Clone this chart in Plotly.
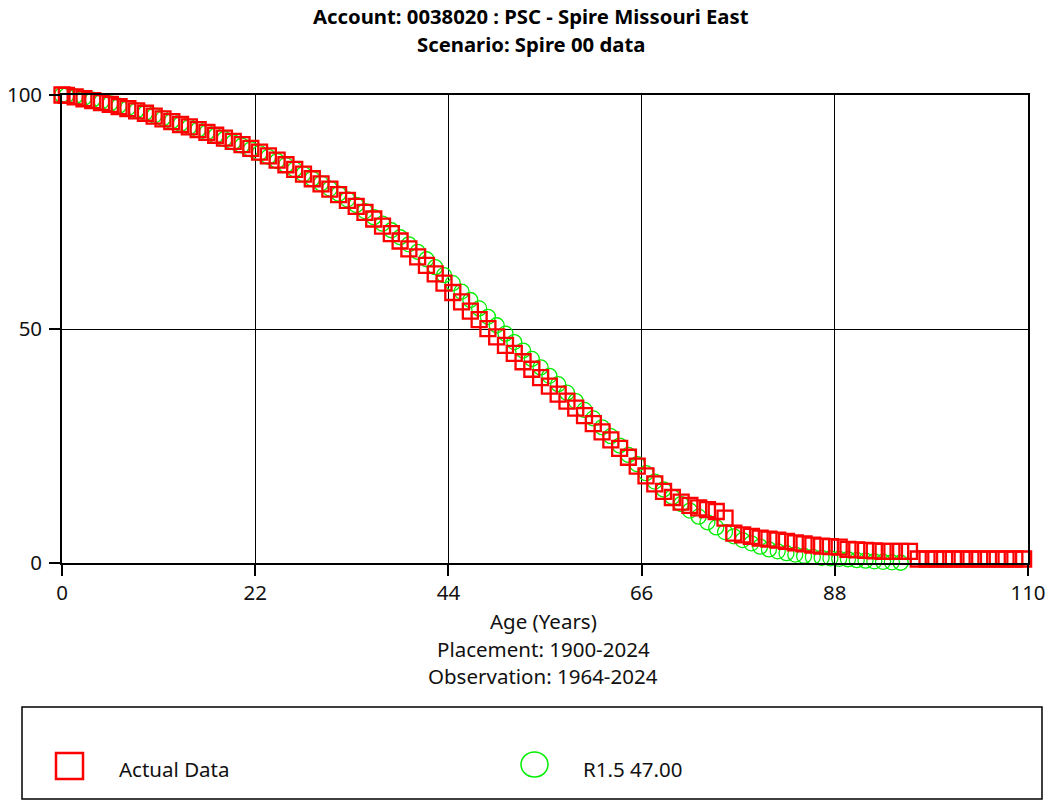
import plotly.graph_objects as go

# ---------------- data ----------------
title_lines = ["Account: 0038020 : PSC - Spire Missouri East", "Scenario: Spire 00 data"]
x_title_lines = ["Age (Years)", "Placement: 1900-2024", "Observation: 1964-2024"]
x_ticks = [0, 22, 44, 66, 88, 110]
y_ticks = [0, 50, 100]

actual_name = "Actual Data"
actual_age = [0] + [i + 0.5 for i in range(110)]
actual_pct = [
    100.0, 99.9, 99.6, 99.2, 98.8, 98.4, 98.0, 97.5, 97.1, 96.6, 96.1,
    95.5, 94.9, 94.3, 93.7, 93.2, 92.6, 92.0, 91.4, 90.8, 90.1,
    89.4, 88.6, 87.8, 87.0, 86.1, 85.1, 84.1, 83.1, 82.1, 81.0,
    79.9, 78.7, 77.5, 76.2, 74.9, 73.5, 72.0, 70.4, 68.8, 67.1,
    65.4, 63.6, 61.8, 59.8, 57.8, 55.8, 53.8, 52.0, 50.1, 48.3,
    46.5, 44.8, 43.0, 41.4, 39.6, 37.8, 36.1, 34.6, 33.1, 31.5,
    29.8, 28.0, 26.3, 24.5, 22.6, 20.7, 18.6, 16.9, 15.3, 14.0,
    13.0, 12.3, 11.8, 11.4, 11.0, 9.6, 6.4, 6.0, 5.7, 5.3,
    5.1, 4.9, 4.6, 4.3, 4.1, 3.8, 3.6, 3.5, 3.4, 2.9,
    2.8, 2.7, 2.6, 2.5, 2.5, 2.5, 2.5,
    0.85, 0.85, 0.85, 0.85, 0.85, 0.85, 0.85, 0.85, 0.85, 0.85, 0.85, 0.85, 0.85,
]

curve_name = "R1.5 47.00"
curve_age = [0] + [i + 0.5 for i in range(96)]
curve_pct = [
    100.0, 99.9, 99.7, 99.4, 99.0, 98.6, 98.2, 97.7, 97.2, 96.7, 96.2,
    95.6, 95.0, 94.4, 93.8, 93.2, 92.6, 92.0, 91.3, 90.6, 89.9,
    89.2, 88.4, 87.6, 86.8, 85.9, 85.0, 84.1, 83.1, 82.1, 81.1,
    80.0, 78.9, 77.7, 76.5, 75.2, 73.9, 72.5, 71.1, 69.6, 68.1,
    66.5, 64.9, 63.2, 61.5, 59.8, 58.0, 56.2, 54.4, 52.6, 50.8,
    49.0, 47.2, 45.4, 43.6, 41.8, 40.0, 38.2, 36.4, 34.6, 32.7,
    30.9, 29.0, 27.1, 25.1, 23.1, 21.1, 19.2, 17.4, 15.7, 14.1,
    12.6, 11.2, 9.9, 8.7, 7.6, 6.6, 5.7, 4.9, 4.2, 3.5,
    2.9, 2.5, 2.1, 1.8, 1.5, 1.3, 1.1, 1.0, 0.9, 0.8,
    0.6, 0.5, 0.35, 0.25, 0.15, 0.05,
]

# ---------------- layout helpers ----------------
W, H = 1047, 801
L, R, T, B = 62, 1028, 95, 563  # plot area in pixels
FONT = "Noto Sans"
TXT = 20.5


def px(xp):
    return (xp - L) / (R - L)


def py(yp):
    return (B - yp) / (B - T)


fig = go.Figure()
fig.add_trace(go.Scatter(
    x=curve_age, y=curve_pct, mode="markers", name=curve_name,
    marker=dict(symbol="circle-open", size=15, color="#00ee00", line=dict(width=1.3, color="#00ee00")),
    cliponaxis=False, showlegend=False,
))
fig.add_trace(go.Scatter(
    x=actual_age, y=actual_pct, mode="markers", name=actual_name,
    marker=dict(symbol="square-open", size=15, color="#ff0000", line=dict(width=2.3, color="#ff0000")),
    cliponaxis=False, showlegend=False,
))

axis_common = dict(
    showgrid=True, gridcolor="black", gridwidth=1.3,
    showline=True, linecolor="black", linewidth=1.6, mirror=True,
    ticks="outside", ticklen=11, tickcolor="black", tickwidth=1.5,
    zeroline=False, automargin=False, tickfont=dict(family=FONT, size=TXT, color="#111"),
)
fig.update_xaxes(range=[0, 110], tickvals=x_ticks, ticklabelstandoff=0, **axis_common)
fig.update_yaxes(range=[0, 100], tickvals=y_ticks, ticklabelstandoff=3, **axis_common)

annotations = []
for txt, ycen in zip(title_lines, [16.5, 44]):
    annotations.append(dict(text="<b>%s</b>" % txt, x=px(531), y=py(ycen), xref="paper", yref="paper",
                            showarrow=False, xanchor="center", yanchor="middle",
                            font=dict(family=FONT, size=20.3, color="black")))
for txt, ycen in zip(x_title_lines, [621, 649, 676]):
    annotations.append(dict(text=txt, x=px(543), y=py(ycen), xref="paper", yref="paper",
                            showarrow=False, xanchor="center", yanchor="middle",
                            font=dict(family=FONT, size=TXT, color="#111")))
# legend texts
annotations.append(dict(text=actual_name, x=px(117), y=py(769), xref="paper", yref="paper",
                        showarrow=False, xanchor="left", yanchor="middle",
                        font=dict(family=FONT, size=TXT, color="#111")))
annotations.append(dict(text=curve_name, x=px(581), y=py(769), xref="paper", yref="paper",
                        showarrow=False, xanchor="left", yanchor="middle",
                        font=dict(family=FONT, size=TXT, color="#111")))

shapes = [
    # legend box
    dict(type="rect", xref="paper", yref="paper", x0=px(22), x1=px(1042), y0=py(707), y1=py(799),
         line=dict(color="black", width=1.5), fillcolor="rgba(0,0,0,0)"),
    # legend square
    dict(type="rect", xref="paper", yref="paper", x0=px(56), x1=px(83), y0=py(753), y1=py(779),
         line=dict(color="#ff0000", width=2.5), fillcolor="rgba(0,0,0,0)"),
    # legend circle
    dict(type="circle", xref="paper", yref="paper", x0=px(521), x1=px(548), y0=py(752), y1=py(777),
         line=dict(color="#00ee00", width=1.5), fillcolor="rgba(0,0,0,0)"),
]

fig.update_layout(
    width=W, height=H, autosize=False,
    margin=dict(l=L, r=W - R, t=T, b=H - B, pad=0, autoexpand=False),
    paper_bgcolor="white", plot_bgcolor="white",
    annotations=annotations, shapes=shapes, showlegend=False,
    font=dict(family=FONT),
)

fig.write_html(
    "out.html",
    config={"responsive": False, "displayModeBar": False},
    post_script="document.body.style.margin='0';document.body.style.padding='0';"
                "document.body.style.overflow='hidden';",
)
